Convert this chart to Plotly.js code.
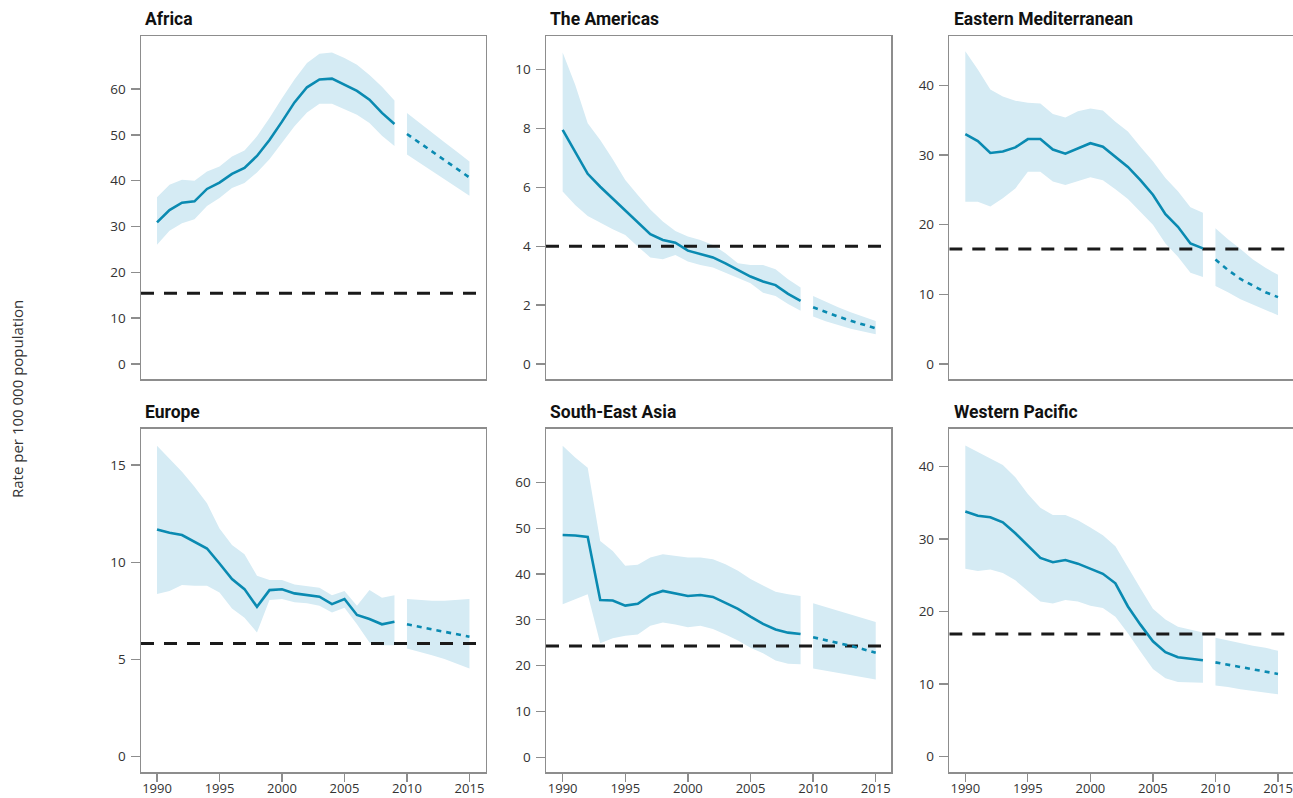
<!DOCTYPE html>
<html>
<head>
<meta charset="utf-8">
<script src="https://cdn.plot.ly/plotly-3.0.1.min.js"></script>
<style>html,body{margin:0;padding:0;background:#fff;}#chart{width:1293px;height:798px;}</style>
</head>
<body>
<div id="chart"></div>
<script>
// ---- data ----
const histYears = [1990,1991,1992,1993,1994,1995,1996,1997,1998,1999,2000,2001,2002,2003,2004,2005,2006,2007,2008,2009];
const projYears = [2010,2011,2012,2013,2014,2015];
const xTicks = [1990,1995,2000,2005,2010,2015];
const regionNames = ["Africa","The Americas","Eastern Mediterranean","Europe","South-East Asia","Western Pacific"];

const afrMid = [30.9,33.6,35.2,35.5,38.2,39.6,41.5,42.8,45.4,48.9,52.9,57.1,60.4,62.1,62.3,61.0,59.6,57.7,54.8,52.4];
const afrHi  = [36.4,39.1,40.2,40.0,42.0,43.1,45.3,46.6,49.7,53.7,58.0,62.1,65.7,67.7,68.0,66.8,65.3,63.1,60.5,57.5];
const afrLo  = [26.0,29.1,30.7,31.6,34.5,36.2,38.4,39.5,41.8,44.7,48.2,51.9,54.9,56.8,56.8,55.6,54.4,52.6,49.8,47.6];
const afrPMid = [50.2,48.3,46.4,44.5,42.6,40.7];
const afrPHi  = [54.8,52.6,50.5,48.4,46.3,44.2];
const afrPLo  = [45.7,43.9,42.1,40.3,38.5,36.7];
const afrTarget = 15.4;
const afrTicks = [0,10,20,30,40,50,60];

const amrMid = [7.95,7.21,6.46,6.02,5.62,5.23,4.82,4.41,4.21,4.12,3.85,3.74,3.62,3.42,3.19,2.97,2.80,2.68,2.38,2.14];
const amrHi  = [10.58,9.48,8.18,7.61,6.95,6.25,5.74,5.25,4.84,4.52,4.33,4.21,4.04,3.76,3.42,3.36,3.36,3.22,2.88,2.60];
const amrLo  = [5.86,5.40,5.03,4.80,4.58,4.38,3.99,3.62,3.56,3.70,3.48,3.36,3.28,3.10,2.91,2.74,2.42,2.31,2.04,1.81];
const amrPMid = [1.93,1.76,1.61,1.47,1.34,1.21];
const amrPHi  = [2.31,2.11,1.93,1.76,1.61,1.46];
const amrPLo  = [1.61,1.45,1.32,1.20,1.10,1.01];
const amrTarget = 4.0;
const amrTicks = [0,2,4,6,8,10];

const emrMid = [33.0,32.0,30.3,30.5,31.1,32.3,32.3,30.8,30.2,31.0,31.7,31.2,29.8,28.3,26.4,24.3,21.5,19.7,17.3,16.6];
const emrHi  = [44.9,42.3,39.4,38.4,37.8,37.5,37.4,35.9,35.4,36.3,36.7,36.4,34.8,33.4,31.2,29.1,26.7,24.8,22.5,21.7];
const emrLo  = [23.3,23.3,22.6,23.8,25.2,27.6,27.6,26.2,25.7,26.2,26.8,26.4,25.1,23.7,21.9,20.0,17.3,15.4,13.1,12.5];
const emrPMid = [15.0,13.5,12.2,11.2,10.3,9.6];
const emrPHi  = [19.5,17.9,16.5,15.0,13.8,12.8];
const emrPLo  = [11.2,10.3,9.3,8.6,7.8,7.0];
const emrTarget = 16.5;
const emrTicks = [0,10,20,30,40];

const eurMid = [11.69,11.52,11.40,11.06,10.71,9.94,9.14,8.62,7.71,8.57,8.61,8.40,8.31,8.23,7.85,8.11,7.29,7.08,6.81,6.94];
const eurHi  = [15.99,15.34,14.66,13.89,13.03,11.74,10.89,10.41,9.31,9.09,9.09,8.86,8.79,8.69,8.31,8.52,7.77,8.57,8.18,8.31];
const eurLo  = [8.37,8.52,8.83,8.79,8.79,8.45,7.63,7.15,6.39,8.06,8.11,7.94,7.89,7.77,7.42,7.66,6.81,5.88,5.74,5.74];
const eurPMid = [6.81,6.68,6.55,6.42,6.30,6.17];
const eurPHi  = [8.11,8.05,8.02,8.02,8.06,8.11];
const eurPLo  = [5.57,5.40,5.22,5.03,4.80,4.54];
const eurTarget = 5.83;
const eurTicks = [0,5,10,15];

const searMid = [48.5,48.4,48.1,34.3,34.2,33.1,33.5,35.4,36.3,35.8,35.2,35.4,35.0,33.7,32.4,30.7,29.1,27.9,27.2,26.9];
const searHi  = [68.0,65.4,63.2,47.2,45.0,41.8,42.0,43.6,44.3,43.9,43.6,43.6,43.2,42.1,40.7,38.9,37.5,36.1,35.6,35.2];
const searLo  = [33.4,34.5,35.6,24.9,26.0,26.5,26.8,28.7,29.4,29.0,28.4,28.7,28.0,26.8,25.5,23.9,22.7,21.1,20.4,20.3];
const searPMid = [26.2,25.6,24.9,24.3,23.6,22.8];
const searPHi  = [33.6,32.8,31.9,31.1,30.3,29.5];
const searPLo  = [19.4,18.9,18.5,18.0,17.5,17.0];
const searTarget = 24.3;
const searTicks = [0,10,20,30,40,50,60];

const wprMid = [33.8,33.2,33.0,32.3,30.8,29.1,27.4,26.8,27.1,26.6,25.9,25.2,23.9,20.7,18.2,15.9,14.4,13.7,13.5,13.3];
const wprHi  = [42.9,42.0,41.2,40.2,38.5,36.2,34.3,33.3,33.3,32.6,31.6,30.5,29.0,26.0,23.2,20.4,18.9,17.9,17.5,17.1];
const wprLo  = [25.9,25.6,25.8,25.3,24.3,22.8,21.4,21.1,21.6,21.4,20.8,20.5,19.3,17.0,14.5,12.1,10.8,10.3,10.3,10.2];
const wprPMid = [13.0,12.7,12.4,12.1,11.7,11.4];
const wprPHi  = [16.4,16.0,15.7,15.3,15.0,14.6];
const wprPLo  = [9.8,9.6,9.3,9.1,8.8,8.6];
const wprTarget = 16.9;
const wprTicks = [0,10,20,30,40];

// ---- styling / layout ----
const LINE = '#0a8ab1';
const BAND = '#d5ebf4';
const FRAME = '#8d8d8d';
const W = 1293, H = 798;

const panels = [
  {name: regionNames[0], mid: afrMid, hi: afrHi, lo: afrLo, pmid: afrPMid, phi: afrPHi, plo: afrPLo, target: afrTarget, ticks: afrTicks, yr: [-3.3, 71.6], col: 0, row: 0},
  {name: regionNames[1], mid: amrMid, hi: amrHi, lo: amrLo, pmid: amrPMid, phi: amrPHi, plo: amrPLo, target: amrTarget, ticks: amrTicks, yr: [-0.51, 11.14], col: 1, row: 0},
  {name: regionNames[2], mid: emrMid, hi: emrHi, lo: emrLo, pmid: emrPMid, phi: emrPHi, plo: emrPLo, target: emrTarget, ticks: emrTicks, yr: [-2.16, 47.1], col: 2, row: 0},
  {name: regionNames[3], mid: eurMid, hi: eurHi, lo: eurLo, pmid: eurPMid, phi: eurPHi, plo: eurPLo, target: eurTarget, ticks: eurTicks, yr: [-0.80, 16.87], col: 0, row: 1},
  {name: regionNames[4], mid: searMid, hi: searHi, lo: searLo, pmid: searPMid, phi: searPHi, plo: searPLo, target: searTarget, ticks: searTicks, yr: [-3.27, 71.7], col: 1, row: 1},
  {name: regionNames[5], mid: wprMid, hi: wprHi, lo: wprLo, pmid: wprPMid, phi: wprPHi, plo: wprPLo, target: wprTarget, ticks: wprTicks, yr: [-2.15, 45.2], col: 2, row: 1}
];

const colPx = [[141, 485.7], [546, 891], [949.3, 1293]];
const rowPx = [[36, 379], [428.7, 772.3]];
const xRanges = [[1988.72, 2016.3], [1988.67, 2016.22], [1988.72, 2016.2]];
const titleX = [143, 548, 952];
const titleY = [19, 412];

const traces = [];
const layout = {
  width: W, height: H,
  margin: {l: 0, r: 0, t: 0, b: 0},
  paper_bgcolor: '#fff', plot_bgcolor: '#fff',
  showlegend: false,
  font: {family: 'Open Sans, sans-serif', size: 13, color: '#333'},
  annotations: [],
  hovermode: false
};

function rev(a) { return a.slice().reverse(); }

panels.forEach((p, i) => {
  const n = i + 1;
  const xa = 'x' + (n === 1 ? '' : n), ya = 'y' + (n === 1 ? '' : n);
  const xk = 'xaxis' + (n === 1 ? '' : n), yk = 'yaxis' + (n === 1 ? '' : n);
  const cp = colPx[p.col], rp = rowPx[p.row];
  layout[xk] = {
    domain: [cp[0] / W, Math.min(1, cp[1] / W)],
    range: xRanges[p.col], anchor: ya,
    showline: true, mirror: true, linecolor: FRAME, linewidth: 1.5,
    showgrid: false, zeroline: false,
    ticks: p.row === 1 ? 'outside' : '', ticklen: 8, tickwidth: 1.3, tickcolor: FRAME,
    tickvals: xTicks, showticklabels: p.row === 1,
    tickfont: {size: 13, color: '#333'}, ticklabelstandoff: -4,
    fixedrange: true
  };
  layout[yk] = {
    domain: [1 - rp[1] / H, 1 - rp[0] / H],
    range: p.yr, anchor: xa,
    showline: true, mirror: true, linecolor: FRAME, linewidth: 1.5,
    showgrid: false, zeroline: false,
    ticks: 'outside', ticklen: 9, tickwidth: 1.3, tickcolor: FRAME,
    tickvals: p.ticks, tickfont: {size: 13.5, color: '#333'}, ticklabelstandoff: 2,
    fixedrange: true
  };
  // bands
  traces.push({x: histYears.concat(rev(histYears)), y: p.hi.concat(rev(p.lo)), xaxis: xa, yaxis: ya,
    mode: 'lines', fill: 'toself', fillcolor: BAND, line: {width: 0, color: BAND}, hoverinfo: 'skip'});
  traces.push({x: projYears.concat(rev(projYears)), y: p.phi.concat(rev(p.plo)), xaxis: xa, yaxis: ya,
    mode: 'lines', fill: 'toself', fillcolor: BAND, line: {width: 0, color: BAND}, hoverinfo: 'skip'});
  // target
  traces.push({x: xRanges[p.col], y: [p.target, p.target], xaxis: xa, yaxis: ya, mode: 'lines',
    line: {color: '#1a1a1a', width: 3, dash: '13px,10px'}, cliponaxis: true});
  // central lines
  traces.push({x: histYears, y: p.mid, xaxis: xa, yaxis: ya, mode: 'lines', line: {color: LINE, width: 2.6}});
  traces.push({x: projYears, y: p.pmid, xaxis: xa, yaxis: ya, mode: 'lines', line: {color: LINE, width: 2.6, dash: '5px,5px'}});
  // title
  layout.annotations.push({text: '<b>' + p.name + '</b>', xref: 'paper', yref: 'paper',
    x: titleX[p.col] / W, y: 1 - titleY[p.row] / H, xanchor: 'left', yanchor: 'middle', showarrow: false,
    font: {family: 'Roboto, sans-serif', size: 17.5, color: '#111'}});
});

layout.annotations.push({text: 'Rate per 100 000 population', xref: 'paper', yref: 'paper',
  x: 17 / W, y: 1 - 399 / H, xanchor: 'center', yanchor: 'middle', textangle: -90, showarrow: false,
  font: {family: 'Open Sans, sans-serif', size: 15, color: '#333'}});

Plotly.newPlot('chart', traces, layout, {displayModeBar: false, staticPlot: true});
</script>
</body>
</html>
